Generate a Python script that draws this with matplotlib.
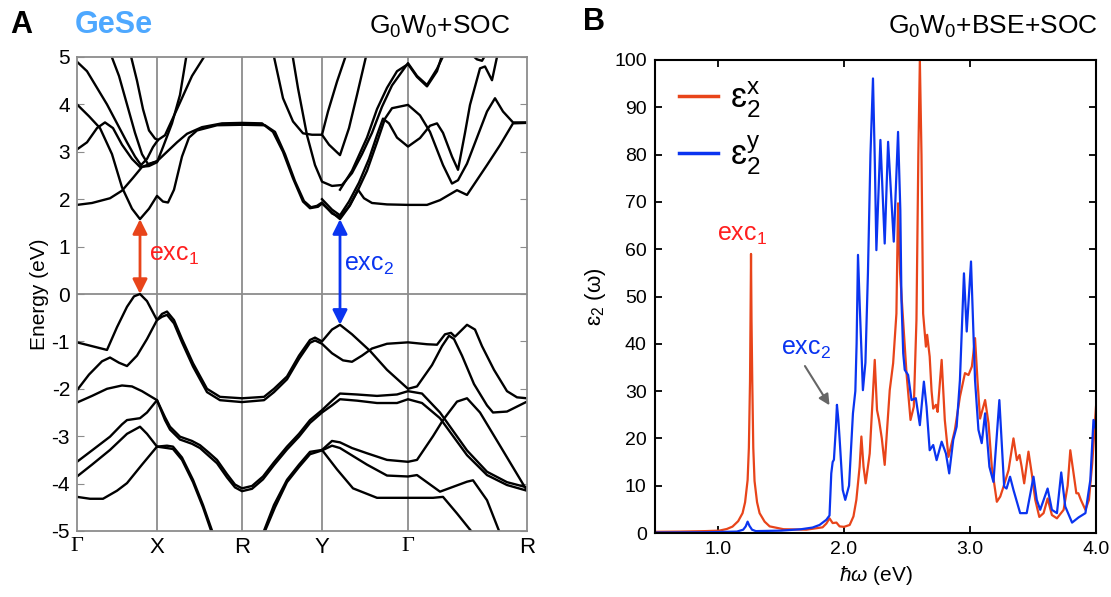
import matplotlib
matplotlib.use("Agg")
import matplotlib.pyplot as plt

plt.rcParams['font.family'] = ['Liberation Sans', 'DejaVu Sans']
plt.rcParams['mathtext.fontset'] = 'custom'
plt.rcParams['mathtext.rm'] = 'Liberation Sans'
plt.rcParams['mathtext.it'] = 'Liberation Sans:italic'
plt.rcParams['axes.unicode_minus'] = False

# ---- panel A: band structure (k path position, energy in eV) ----
kpath_pos = [0, 0.80, 1.65, 2.45, 3.31, 4.50]
kpath_lab = ['Γ', 'X', 'R', 'Y', 'Γ', 'R']

band_c1 = [(0, 1.88), (0.15, 1.92), (0.33, 2.02), (0.45, 2.18), (0.56, 2.45), (0.65, 2.68), (0.8, 2.8),
           (0.9, 3.0), (1.0, 3.2), (1.1, 3.38), (1.25, 3.52), (1.45, 3.6), (1.65, 3.61), (1.85, 3.6),
           (1.96, 3.42), (2.06, 3.0), (2.16, 2.44), (2.26, 1.95), (2.33, 1.81), (2.41, 1.84), (2.45, 1.91),
           (2.55, 1.72), (2.63, 1.58), (2.73, 1.87), (2.81, 2.2), (2.87, 2.02), (2.95, 1.92), (3.1, 1.89),
           (3.31, 1.88), (3.5, 1.88), (3.63, 1.98), (3.8, 2.19), (3.9, 2.09), (4.1, 2.72), (4.23, 3.14),
           (4.36, 3.6), (4.5, 3.61)]
band_c2 = [(0, 4.0), (0.12, 3.75), (0.23, 3.5), (0.35, 2.95), (0.45, 2.25), (0.55, 1.8), (0.63, 1.58),
           (0.72, 1.8), (0.8, 2.07), (0.86, 1.95), (0.91, 1.93), (0.97, 2.2), (1.05, 2.9), (1.12, 3.3),
           (1.2, 3.45), (1.4, 3.56), (1.65, 3.57), (1.88, 3.56), (1.98, 3.42), (2.08, 2.95), (2.18, 2.38),
           (2.27, 1.96), (2.34, 1.83), (2.4, 1.86), (2.45, 1.93), (2.55, 1.7), (2.63, 1.62), (2.72, 1.85),
           (2.8, 2.15), (2.9, 2.6), (3.0, 3.2), (3.08, 3.7), (3.15, 3.92), (3.31, 3.99), (3.43, 3.77),
           (3.53, 3.42), (3.66, 2.72), (3.75, 2.33), (3.81, 2.4), (3.9, 2.75), (4.0, 3.3), (4.1, 3.85),
           (4.18, 4.13), (4.26, 3.85), (4.36, 3.62), (4.5, 3.62)]
band_c3 = [(0, 3.05), (0.1, 3.2), (0.2, 3.5), (0.28, 3.62), (0.36, 3.5), (0.45, 3.15), (0.55, 2.85),
           (0.63, 2.68), (0.72, 2.7), (0.8, 2.78), (0.86, 3.1), (0.95, 3.6), (1.03, 4.2), (1.1, 5.1)]
band_c4 = [(0, 4.9), (0.1, 4.7), (0.2, 4.35), (0.3, 4.0), (0.4, 3.6), (0.5, 3.2), (0.58, 2.9), (0.64, 2.72),
           (0.7, 2.85), (0.76, 3.1), (0.81, 3.25), (0.88, 3.35), (1.0, 3.9), (1.15, 4.6), (1.3, 5.1)]
band_c5 = [(0.33, 5.1), (0.42, 4.6), (0.5, 4.0), (0.58, 3.4), (0.65, 2.95), (0.71, 2.74), (0.8, 2.8)]
band_c6 = [(0.53, 5.1), (0.6, 4.5), (0.66, 3.9), (0.72, 3.45), (0.78, 3.28), (0.81, 3.25)]
band_c7 = [(1.96, 5.1), (2.06, 4.13), (2.16, 3.64), (2.26, 3.39), (2.35, 3.36), (2.45, 3.36), (2.52, 3.15),
           (2.63, 2.93), (2.72, 3.5), (2.8, 4.2), (2.9, 5.1)]
band_c8 = [(2.15, 5.1), (2.21, 4.34), (2.3, 3.35), (2.38, 2.72), (2.45, 2.37), (2.55, 2.28), (2.65, 2.3),
           (2.75, 2.55), (2.85, 2.95), (2.95, 3.4), (3.05, 3.95), (3.15, 4.4), (3.31, 4.87), (3.4, 4.6),
           (3.5, 4.41), (3.6, 4.75), (3.68, 5.1)]
band_c9 = [(2.45, 3.36), (2.51, 3.85), (2.6, 4.48), (2.7, 5.1)]
band_c10 = [(2.45, 2.0), (2.55, 1.78), (2.63, 1.66), (2.72, 1.95), (2.82, 2.35), (2.92, 2.85), (3.0, 3.35),
            (3.06, 3.7), (3.12, 3.6), (3.2, 3.3), (3.31, 3.11), (3.43, 3.29), (3.53, 3.55), (3.6, 3.6),
            (3.66, 3.4), (3.75, 2.9), (3.81, 2.62), (3.88, 3.4), (3.93, 3.99), (4.03, 4.76), (4.08, 4.8),
            (4.15, 4.51), (4.21, 5.1)]
band_c11 = [(2.63, 2.2), (2.75, 2.6), (2.9, 3.3), (3.0, 3.9), (3.1, 4.35), (3.2, 4.7), (3.31, 4.85),
            (3.4, 4.58), (3.5, 4.38), (3.6, 4.7), (3.66, 5.1)]
band_c12 = [(3.92, 5.1), (4.0, 4.95), (4.05, 4.92), (4.1, 5.1)]

band_v1 = [(0, -1.02), (0.15, -1.1), (0.3, -1.18), (0.4, -0.7), (0.5, -0.27), (0.57, -0.05), (0.63, 0.0),
           (0.7, -0.15), (0.8, -0.55), (0.85, -0.42), (0.9, -0.37), (0.97, -0.55), (1.05, -0.95),
           (1.16, -1.46), (1.3, -2.0), (1.43, -2.17), (1.65, -2.2), (1.87, -2.17), (1.97, -2.0),
           (2.1, -1.74), (2.22, -1.3), (2.33, -0.97), (2.38, -0.92), (2.45, -1.0), (2.55, -0.75),
           (2.63, -0.65), (2.75, -0.85), (2.93, -1.2), (3.1, -1.6), (3.31, -2.0), (3.4, -1.95),
           (3.55, -1.5), (3.65, -1.1), (3.72, -0.88), (3.77, -0.95), (3.85, -1.3), (3.97, -1.9),
           (4.1, -2.35), (4.16, -2.5), (4.3, -2.48), (4.5, -2.27)]
band_v2 = [(0, -2.03), (0.12, -1.7), (0.25, -1.42), (0.33, -1.34), (0.42, -1.45), (0.5, -1.52), (0.6, -1.3),
           (0.7, -0.95), (0.8, -0.55), (0.85, -0.48), (0.9, -0.44), (0.97, -0.62), (1.05, -1.02),
           (1.16, -1.53), (1.3, -2.07), (1.43, -2.24), (1.65, -2.28), (1.87, -2.24), (1.97, -2.07),
           (2.1, -1.8), (2.22, -1.37), (2.33, -1.03), (2.38, -0.98), (2.45, -1.05), (2.55, -1.25),
           (2.66, -1.4), (2.75, -1.43), (2.85, -1.3), (2.95, -1.15), (3.1, -1.05), (3.31, -1.02),
           (3.5, -1.06), (3.6, -1.07), (3.68, -0.85), (3.74, -0.82), (3.78, -0.9), (3.9, -0.65),
           (3.98, -0.75), (4.05, -1.1), (4.17, -1.6), (4.3, -2.05), (4.4, -2.18), (4.5, -2.2)]
band_v3 = [(0, -2.29), (0.15, -2.15), (0.3, -2.0), (0.45, -1.93), (0.55, -1.95), (0.65, -2.05), (0.8, -2.24),
           (0.88, -2.6), (0.93, -2.8), (1.03, -3.01), (1.15, -3.1), (1.23, -3.19), (1.32, -3.35),
           (1.4, -3.5), (1.5, -3.8), (1.58, -4.02), (1.65, -4.1), (1.75, -4.05), (1.86, -3.85),
           (1.97, -3.55), (2.1, -3.22), (2.22, -2.95), (2.33, -2.66), (2.45, -2.45), (2.55, -2.25),
           (2.63, -2.1), (2.8, -2.12), (3.0, -2.15), (3.2, -2.12), (3.31, -2.05), (3.45, -2.1),
           (3.63, -2.5), (3.9, -3.3), (4.1, -3.75), (4.3, -3.97), (4.5, -4.08)]
band_v4 = [(0, -3.54), (0.15, -3.3), (0.33, -3.01), (0.45, -2.75), (0.5, -2.66), (0.63, -2.62), (0.7, -2.5),
           (0.8, -2.24), (0.88, -2.66), (0.93, -2.86), (1.03, -3.07), (1.15, -3.16), (1.23, -3.25),
           (1.32, -3.42), (1.4, -3.57), (1.5, -3.87), (1.58, -4.08), (1.65, -4.16), (1.75, -4.11),
           (1.86, -3.91), (1.97, -3.61), (2.1, -3.28), (2.22, -3.01), (2.33, -2.72), (2.45, -2.5),
           (2.55, -2.35), (2.63, -2.22), (2.8, -2.25), (3.0, -2.3), (3.2, -2.3), (3.31, -2.22),
           (3.45, -2.3), (3.63, -2.62), (3.9, -3.4), (4.1, -3.82), (4.3, -4.03), (4.5, -4.15)]
band_v5 = [(0, -3.85), (0.15, -3.6), (0.33, -3.29), (0.5, -2.95), (0.63, -2.8), (0.7, -2.95), (0.8, -3.22),
           (0.9, -3.2), (0.96, -3.22), (1.05, -3.45), (1.16, -3.92), (1.26, -4.45), (1.36, -5.05),
           (1.6, -5.9), (1.86, -5.05), (1.97, -4.45), (2.1, -3.92), (2.22, -3.6), (2.33, -3.33),
           (2.45, -3.29), (2.55, -3.1), (2.63, -3.13), (2.75, -3.25), (2.9, -3.36), (3.1, -3.5),
           (3.31, -3.54), (3.4, -3.5), (3.56, -3.0), (3.66, -2.66), (3.8, -2.27), (3.9, -2.2),
           (4.03, -2.5), (4.23, -3.2), (4.5, -4.15)]
band_v6 = [(0, -4.28), (0.13, -4.32), (0.26, -4.32), (0.4, -4.15), (0.5, -3.99), (0.65, -3.6), (0.8, -3.22),
           (0.9, -3.25), (0.96, -3.27), (1.05, -3.5), (1.16, -3.97), (1.26, -4.5), (1.35, -5.05),
           (1.6, -5.95), (1.87, -5.05), (1.98, -4.5), (2.1, -3.97), (2.22, -3.65), (2.33, -3.38),
           (2.45, -3.3), (2.55, -3.2), (2.63, -3.25), (2.9, -3.6), (3.1, -3.83), (3.31, -3.85),
           (3.4, -3.82), (3.63, -4.17), (3.9, -3.96), (3.96, -3.93), (4.1, -4.35), (4.23, -5.05), (4.3, -5.4)]
band_v7 = [(2.45, -3.29), (2.6, -3.7), (2.76, -4.1), (3.0, -4.3), (3.31, -4.3), (3.56, -4.3), (3.66, -4.28),
           (3.8, -4.63), (3.96, -5.05), (4.0, -5.2)]

bands = [band_c1, band_c2, band_c3, band_c4, band_c5, band_c6, band_c7, band_c8, band_c9, band_c10,
         band_c11, band_c12, band_v1, band_v2, band_v3, band_v4, band_v5, band_v6, band_v7]

# exciton transitions (k, E from, E to)
exc1_k, exc1_e = 0.63, (0.0, 1.58)
exc2_k, exc2_e = 2.63, (-0.65, 1.58)

# ---- panel B: eps2 spectra ----
energy_x = [0.5, 0.7, 0.9, 1.01, 1.07, 1.115, 1.16, 1.195, 1.215, 1.235, 1.245, 1.254, 1.258, 1.262,
            1.266, 1.272, 1.28, 1.29, 1.31, 1.33, 1.37, 1.41, 1.52, 1.7, 1.83, 1.86,
            1.885, 1.91, 1.94, 1.965, 2.0, 2.045, 2.075, 2.098, 2.124, 2.138, 2.155, 2.172, 2.204, 2.244,
            2.262, 2.278, 2.3, 2.323, 2.363, 2.39, 2.416, 2.429, 2.445, 2.469, 2.496, 2.528, 2.554, 2.575,
            2.59, 2.602, 2.615, 2.628, 2.65, 2.66, 2.68, 2.695, 2.708, 2.73, 2.743, 2.775, 2.8, 2.829, 2.88,
            2.92, 2.96, 2.988, 3.015, 3.04, 3.06, 3.08, 3.12, 3.147, 3.173, 3.213, 3.24, 3.266, 3.306, 3.345,
            3.372, 3.393, 3.41, 3.43, 3.464, 3.49, 3.518, 3.55, 3.584, 3.616, 3.65, 3.69, 3.743, 3.775,
            3.796, 3.822, 3.844, 3.86, 3.88, 3.916, 3.944, 3.97, 4.0]
eps_x = [0.25, 0.3, 0.4, 0.5, 0.85, 1.35, 2.5, 4.2, 6.5, 11.2, 18, 32, 45, 59,
         45, 32, 18, 11, 6.5, 4.2, 2.4, 1.4, 0.8, 0.7, 1.2, 2.0,
         3.1, 2.1, 2.2, 1.4, 1.3, 1.7, 3.5, 7.0, 14, 20.4, 14, 10.5, 16.8, 36.6,
         26, 23.9, 20, 14.4, 30.2, 35.9, 46.4, 69.7, 55, 45, 33.8, 23.9, 26.7, 45,
         80, 100, 80, 46.4, 39.4, 41.9, 37.3, 30, 26.3, 27.1, 25.6, 36.6, 23.9, 16.1, 21.8,
         28.8, 33.8, 33.4, 35.2, 41.2, 32, 24.2, 28.1, 23.2, 14, 6.6, 7.7, 9.8, 13.3, 20,
         15.4, 16.5, 14, 10.5, 17.2, 12.6, 7.0, 3.4, 4.2, 7.3, 3.8, 3.1, 4.9, 10,
         17.5, 12.6, 8.4, 8.4, 7.0, 4.9, 7.0, 14.7, 26.7]

energy_y = [0.5, 0.9, 1.15, 1.2, 1.22, 1.235, 1.25, 1.27, 1.3, 1.5, 1.66, 1.75, 1.806, 1.86, 1.885, 1.899,
            1.91, 1.92, 1.935, 1.944, 1.955, 1.965, 1.99, 2.01, 2.04, 2.071, 2.09, 2.1, 2.111, 2.125, 2.15,
            2.17, 2.19, 2.21, 2.23, 2.245, 2.257, 2.289, 2.323, 2.35, 2.395, 2.429, 2.447, 2.456, 2.47,
            2.482, 2.509, 2.536, 2.57, 2.602, 2.634, 2.655, 2.68, 2.708, 2.735, 2.775, 2.809, 2.835, 2.867,
            2.894, 2.92, 2.952, 2.974, 3.008, 3.04, 3.067, 3.093, 3.12, 3.154, 3.186, 3.233, 3.271, 3.29,
            3.318, 3.345, 3.398, 3.45, 3.504, 3.53, 3.557, 3.616, 3.65, 3.69, 3.724, 3.756, 3.81, 3.862,
            3.916, 3.955, 3.98, 4.0]
eps_y = [0.1, 0.15, 0.3, 0.7, 1.4, 2.4, 1.5, 0.7, 0.4, 0.5, 0.8, 1.15, 1.7, 2.8, 3.7, 12.6,
         15.0, 15.5, 22, 27.1, 24, 20, 9.1, 7.0, 10, 25.3, 30, 40, 58.8, 48, 30.2,
         36, 55, 80, 96.1, 78, 59.8, 83.1, 61.2, 82.7, 61.6, 84.8, 68.3, 49.3, 38,
         34.5, 33.4, 28.1, 28.5, 22.8, 32, 26.7, 17.5, 18.6, 15.4, 19.3, 16.8, 12.6, 19.7,
         22.5, 32.3, 54.9, 42.6, 57.4, 32.3, 21.8, 19, 25.3, 14, 10.8, 28.1, 9.8, 9.4,
         11.9, 9.1, 4.2, 4.2, 11.9, 7.0, 4.9, 9.4, 4.9, 4.2, 12.8, 5.6, 2.2, 3.3,
         4.2, 11.2, 23.9, 21.8]

red = '#e8441a'
blue = '#0a34f0'
grey = '#8c8c8c'

fig = plt.figure(figsize=(11.11, 5.97), dpi=100)

# ===== panel A =====
ax1 = fig.add_axes([77 / 1111, 66 / 597, 450 / 1111, 474 / 597])
for kp in kpath_pos[1:-1]:
    ax1.axvline(kp, color=grey, lw=1.3, zorder=1)
ax1.axhline(0, color=grey, lw=1.3, zorder=1)
for b in bands:
    ax1.plot([p[0] for p in b], [p[1] for p in b], color='black', lw=1.7, zorder=2)

ax1.annotate('', xy=(exc1_k, exc1_e[0]), xytext=(exc1_k, exc1_e[1]),
             arrowprops=dict(arrowstyle='<|-|>', color=red, lw=2, mutation_scale=22,
                             shrinkA=0, shrinkB=0), zorder=3)
ax1.annotate('', xy=(exc2_k, exc2_e[0]), xytext=(exc2_k, exc2_e[1]),
             arrowprops=dict(arrowstyle='<|-|>', color=blue, lw=2, mutation_scale=22,
                             shrinkA=0, shrinkB=0), zorder=3)
ax1.text(0.72, 0.82, r'exc$_1$', color='#ff1f1f', fontsize=18, va='center', ha='left')
ax1.text(2.67, 0.62, r'exc$_2$', color=blue, fontsize=18, va='center', ha='left')

ax1.set_xlim(kpath_pos[0], kpath_pos[-1])
ax1.set_ylim(-5, 5)
ax1.set_yticks(range(-5, 6))
ax1.set_xticks(kpath_pos)
ax1.set_xticklabels(kpath_lab, fontsize=16)
for lab in ax1.get_xticklabels():
    if lab.get_text() == 'Γ':
        lab.set_fontfamily('Liberation Serif')
ax1.tick_params(axis='x', length=0, pad=4)
ax1.tick_params(axis='y', direction='in', right=True, length=5, color=grey, labelsize=15, pad=5)
for s in ax1.spines.values():
    s.set_color(grey)
    s.set_linewidth(1.3)
ax1.set_ylabel('Energy (eV)', fontsize=15, labelpad=2)

fig.text(10 / 1111, 1 - 25 / 597, 'A', fontsize=22, fontweight='bold', va='center')
fig.text(75 / 1111, 1 - 25 / 597, 'GeSe', fontsize=22, fontweight='bold', color='#4ea8ff', va='center')
fig.text(510 / 1111, 1 - 27 / 597, r'G$_0$W$_0$+SOC', fontsize=19, ha='right', va='center')

# ===== panel B =====
ax2 = fig.add_axes([655 / 1111, 64 / 597, 441 / 1111, 473 / 597])
ax2.plot(energy_x, eps_x, color=red, lw=1.6, label=r'$\mathrm{ɛ}_2^\mathrm{x}$')
ax2.plot(energy_y, eps_y, color=blue, lw=1.6, label=r'$\mathrm{ɛ}_2^\mathrm{y}$')
ax2.set_xlim(0.5, 4.0)
ax2.set_ylim(0, 100)
ax2.set_xticks([1.0, 2.0, 3.0, 4.0])
ax2.set_xticklabels(['1.0', '2.0', '3.0', '4.0'])
ax2.set_yticks(range(0, 101, 10))
ax2.tick_params(direction='in', top=True, right=True, length=5, width=1.3, labelsize=14, pad=6)
for s in ax2.spines.values():
    s.set_linewidth(1.5)
ax2.set_xlabel(r'$\hbar\omega$ (eV)', fontsize=15, labelpad=4)
ax2.set_ylabel(r'$\mathrm{ɛ}_2$ (ω)', fontsize=16, labelpad=4)

leg = ax2.legend(loc='upper left', bbox_to_anchor=(0.0, 1.01), frameon=False, fontsize=25,
                 handlelength=1.1, handletextpad=0.35, borderaxespad=0.3, labelspacing=0.4)
for ln in leg.get_lines():
    ln.set_linewidth(2.5)

ax2.text(0.99, 63, r'exc$_1$', color='#ff1f1f', fontsize=18, va='center', ha='left')
ax2.text(1.5, 39, r'exc$_2$', color=blue, fontsize=18, va='center', ha='left')
ax2.annotate('', xy=(1.885, 27.0), xytext=(1.69, 35.3),
             arrowprops=dict(arrowstyle='-|>', color='#666666', lw=1.5, mutation_scale=16,
                             shrinkA=0, shrinkB=0))

fig.text(583 / 1111, 1 - 22 / 597, 'B', fontsize=22, fontweight='bold', va='center')
fig.text(1098 / 1111, 1 - 27 / 597, r'G$_0$W$_0$+BSE+SOC', fontsize=19, ha='right', va='center')

fig.savefig('out.png', dpi=100)
